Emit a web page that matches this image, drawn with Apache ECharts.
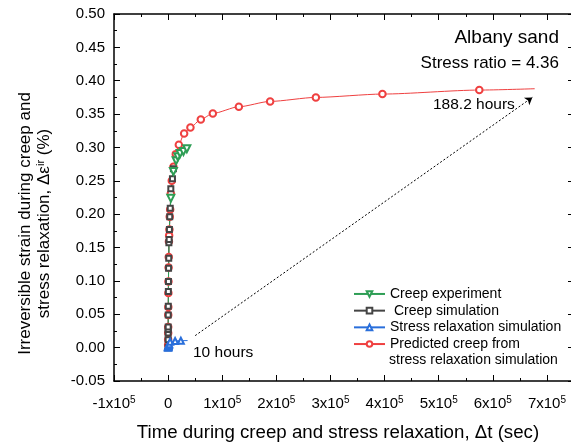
<!DOCTYPE html>
<html>
<head>
<meta charset="utf-8">
<script src="https://cdn.jsdelivr.net/npm/echarts@6/dist/echarts.min.js"></script>
<style>
  html, body { margin: 0; padding: 0; background: #fff; }
  #chart { width: 571px; height: 446px; }
</style>
</head>
<body>
<div id="chart"></div>
<script>
// Creep experiment (time in s, irreversible strain in %)
const expTime   = [0, 300, 900, 2000, 3500, 5000, 9800, 14800, 17900, 22200, 28300, 34600];
const expStrain = [0, 0.05, 0.12, 0.17, 0.20, 0.224, 0.264, 0.280, 0.286, 0.291, 0.294, 0.298];
const expMarked = [false, false, false, false, false, true, true, true, true, true, true, true];

// Creep simulation
const simTime   = [0, 40, 70, 100, 150, 220, 320, 450, 620, 850, 1150, 1450, 1900, 2400, 3000, 3900, 5000, 8000, 9800];
const simStrain = [0, 0.012, 0.022, 0.027, 0.031, 0.049, 0.062, 0.084, 0.099, 0.119, 0.134, 0.157, 0.162, 0.177, 0.196, 0.209, 0.238, 0.253, 0.268];

// Stress relaxation simulation (ends at 10 hours)
const relaxTime   = [0, 20, 50, 100, 200, 350, 550, 850, 1300, 2000, 3700, 12900, 23500, 36000];
const relaxStrain = [0, 0.0005, 0.001, 0.0015, 0.002, 0.0025, 0.003, 0.0035, 0.004, 0.005, 0.0088, 0.0100, 0.0104, 0.0106];

// Predicted creep from stress relaxation simulation (ends at 188.2 hours)
const predTime   = [30, 60, 100, 150, 220, 320, 450, 620, 850, 1150, 1500, 1900, 2400, 3000, 3800, 5000, 6800,
                    9800, 14200, 19800, 29600, 41200, 60400, 82600, 130700, 188500, 273000, 396000, 575000, 677500];
const predStrain = [0.004, 0.012, 0.022, 0.031, 0.049, 0.061, 0.082, 0.099, 0.120, 0.136, 0.159, 0.168, 0.177, 0.196, 0.207, 0.231, 0.250,
                    0.271, 0.290, 0.304, 0.321, 0.330, 0.342, 0.351, 0.361, 0.369, 0.375, 0.380, 0.386, 0.388];

// Axis settings
const xMin = -100000, xMax = 750000, xStep = 100000;
const yMin = -0.05, yMax = 0.50, yStep = 0.05;

// Dotted arrow between the end of relaxation and the end of predicted creep
const arrowFrom = [50000, 0.018];
const arrowTo   = [673000, 0.375];

const FONT = '"Liberation Sans", Arial, sans-serif';
const C_GREEN = '#2e9e55', C_BLACK = '#444444', C_BLUE = '#2a6fdb', C_RED = '#ef4040';

const pairs = (xs, ys) => xs.map((x, i) => [x, ys[i]]);

const chart = echarts.init(document.getElementById('chart'), null, { renderer: 'canvas' });

const frameAxisLine = { show: true, onZero: false, lineStyle: { color: '#000', width: 1.5 } };
const tickIn = { show: true, inside: true, length: 6, lineStyle: { color: '#000', width: 1 } };
const minorIn = { show: true, splitNumber: 2, length: 3, lineStyle: { color: '#000', width: 1 } };

const xLabelFmt = v => {
  if (Math.abs(v % xStep) > 1) return '';
  const k = Math.round(v / xStep);
  if (k === 0) return '{b|0}';
  return '{b|' + k + 'x10}{s|5}';
};

const predData = pairs(predTime, predStrain).map((p, i, a) =>
  i === a.length - 1 ? { value: p, symbol: 'none' } : p);
const relaxData = pairs(relaxTime, relaxStrain).map((p, i, a) =>
  i === a.length - 1 ? { value: p, symbol: 'none' } : p);
const expData = pairs(expTime, expStrain).map((p, i) =>
  expMarked[i] ? p : { value: p, symbol: 'none' });

chart.setOption({
  animation: false,
  backgroundColor: '#fff',
  textStyle: { fontFamily: FONT },
  grid: { left: 114, top: 14, width: 460, height: 367, outerBoundsMode: 'none', containLabel: false },
  xAxis: [{
    type: 'value', position: 'bottom', min: xMin, max: xMax, interval: xStep,
    axisLine: frameAxisLine, axisTick: tickIn, minorTick: minorIn, splitLine: { show: false },
    axisLabel: {
      margin: 14, formatter: xLabelFmt, color: '#000',
      rich: {
        b: { fontSize: 15, fontFamily: FONT, color: '#000', lineHeight: 18 },
        s: { fontSize: 10, fontFamily: FONT, color: '#000', verticalAlign: 'top', lineHeight: 10 }
      }
    },
    name: 'Time during creep and stress relaxation, \u0394t (sec)',
    nameLocation: 'middle', nameGap: 42,
    nameTextStyle: { fontSize: 18.7, fontFamily: FONT, color: '#000', padding: [0, 12, 0, 0] }
  }, {
    type: 'value', position: 'top', min: xMin, max: xMax, interval: xStep,
    axisLine: frameAxisLine, axisTick: tickIn, minorTick: minorIn, splitLine: { show: false },
    axisLabel: { show: false }
  }],
  yAxis: [{
    type: 'value', position: 'left', min: yMin, max: yMax, interval: yStep,
    axisLine: frameAxisLine, axisTick: tickIn, minorTick: minorIn, splitLine: { show: false },
    axisLabel: { margin: 9, fontSize: 15, color: '#000', fontFamily: FONT, formatter: v => v.toFixed(2) },
    name: '{n|Irreversible strain during creep and}\n{n|stress relaxation, \u0394\u03B5}{s|ir}{n| (%)}',
    nameLocation: 'middle', nameGap: 60,
    nameTextStyle: {
      fontFamily: FONT, color: '#000', padding: [0, 52, 0, 0],
      rich: {
        n: { fontSize: 17, fontFamily: FONT, color: '#000', lineHeight: 19 },
        s: { fontSize: 11, fontFamily: FONT, color: '#000', lineHeight: 19, verticalAlign: 'top' }
      }
    }
  }, {
    type: 'value', position: 'right', min: yMin, max: yMax, interval: yStep,
    axisLine: frameAxisLine, axisTick: tickIn, minorTick: minorIn, splitLine: { show: false },
    axisLabel: { show: false }
  }],
  legend: {
    orient: 'vertical', left: 353, top: 285.6, padding: 0, itemGap: 0,
    itemWidth: 31, itemHeight: 7,
    textStyle: { fontSize: 14, lineHeight: 16.7, fontFamily: FONT, color: '#000' },
    data: ['Creep experiment', 'Creep simulation', 'Stress relaxation simulation', 'Predicted creep from stress relaxation simulation'],
    formatter: name => name === 'Creep simulation' ? ' Creep simulation'
      : name.startsWith('Predicted') ? 'Predicted creep from' : name
  },
  graphic: [
    { type: 'text', left: 389, top: 353.4, style: { text: 'stress relaxation simulation', fontSize: 14, fontFamily: FONT, fill: '#000' } },
    { type: 'text', right: 12, top: 28, style: { text: 'Albany sand', fontSize: 19, fontFamily: FONT, fill: '#000' } },
    { type: 'text', right: 12, top: 55, style: { text: 'Stress ratio = 4.36', fontSize: 17, fontFamily: FONT, fill: '#000' } },
    { type: 'text', left: 433, top: 97, style: { text: '188.2 hours', fontSize: 15.5, fontFamily: FONT, fill: '#000' } },
    { type: 'text', left: 193, top: 344.5, style: { text: '10 hours', fontSize: 15.5, fontFamily: FONT, fill: '#000' } }
  ],
  series: [{
    name: 'Predicted creep from stress relaxation simulation',
    type: 'line', data: predData, smooth: 0.25, smoothMonotone: 'x',
    symbol: 'emptyCircle', symbolSize: 6.5, color: C_RED,
    lineStyle: { color: C_RED, width: 1 }, itemStyle: { color: C_RED, borderWidth: 1 }
  }, {
    name: 'Creep simulation',
    type: 'line', data: pairs(simTime, simStrain),
    symbol: 'emptyRect', symbolSize: 5, color: C_BLACK,
    lineStyle: { color: C_BLACK, width: 1 }, itemStyle: { color: C_BLACK, borderWidth: 1 }
  }, {
    name: 'Creep experiment',
    type: 'line', data: expData,
    symbol: 'emptyTriangle', symbolRotate: 180, symbolSize: 7, color: C_GREEN,
    lineStyle: { color: C_GREEN, width: 1 }, itemStyle: { color: C_GREEN, borderWidth: 1 }
  }, {
    name: 'Stress relaxation simulation',
    type: 'line', data: relaxData,
    symbol: 'emptyTriangle', symbolSize: 6, color: C_BLUE,
    lineStyle: { color: C_BLUE, width: 1 }, itemStyle: { color: C_BLUE, borderWidth: 1 },
    markLine: {
      silent: true, symbol: ['none', 'arrow'], symbolSize: 7,
      label: { show: false },
      lineStyle: { color: '#000', width: 1, type: [2, 2] },
      emphasis: { disabled: true },
      data: [[{ coord: arrowFrom }, { coord: arrowTo }]]
    }
  }]
});
</script>
</body>
</html>
